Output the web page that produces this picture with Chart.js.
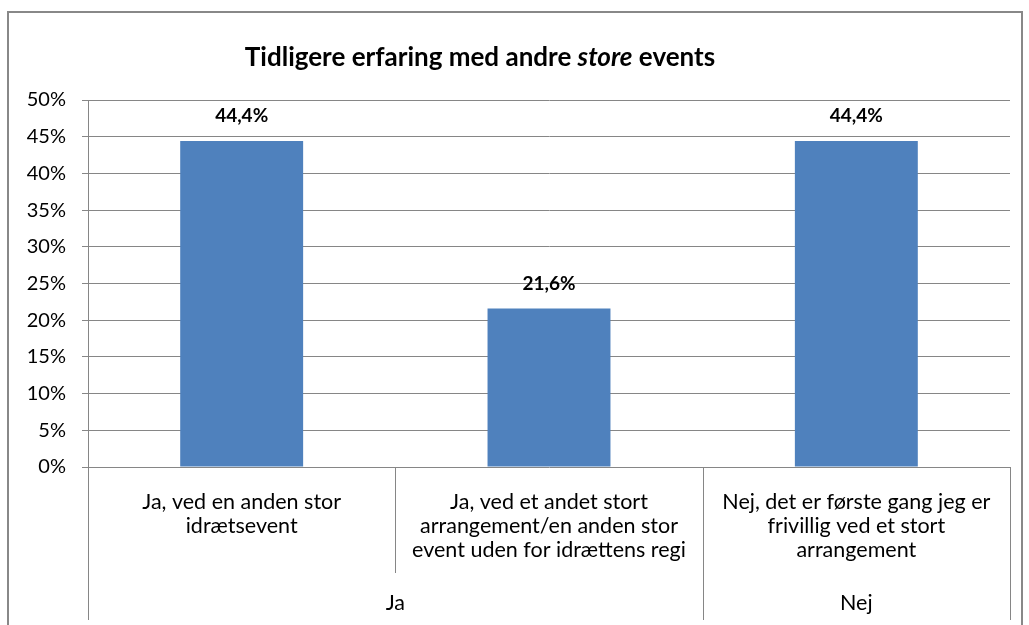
<!DOCTYPE html>
<html>
<head>
<meta charset="utf-8">
<script src="https://cdn.jsdelivr.net/npm/chart.js@4.4.1/dist/chart.umd.min.js"></script>
<style>
  html, body { margin: 0; padding: 0; background: #fff; }
  #wrap { width: 1029px; height: 625px; position: relative; }
</style>
</head>
<body>
<div id="wrap"><canvas id="chart"></canvas></div>
<script>
// data
const categories = [
    ['Ja, ved en anden stor', 'idrætsevent'],
    ['Ja, ved et andet stort', 'arrangement/en anden stor', 'event uden for idrættens regi'],
    ['Nej, det er første gang jeg er', 'frivillig ved et stort', 'arrangement']
];
const groupLabels = ['Ja', 'Nej'];
const groupSizes = [2, 1];
const values = [44.4, 21.6, 44.4];
const yMax = 50;
const yStep = 5;

const FONT = 'Lato, "Open Sans", sans-serif';
const lineColor = '#868686';

// tegner titel, ramme, datalabels og den todelte kategoriakse
const excelLook = {
    id: 'excelLook',
    afterDraw(chart) {
        const ctx = chart.ctx;
        const area = chart.chartArea;
        const x = chart.scales.x;
        ctx.save();

        // ramme
        ctx.strokeStyle = '#888';
        ctx.lineWidth = 2;
        ctx.strokeRect(8, 12, 1014, 640);

        // titel med kursiv "store"
        const parts = [
            { t: 'Tidligere erfaring med andre ', f: 'bold 26px ' + FONT },
            { t: 'store', f: 'italic bold 26px ' + FONT },
            { t: ' events', f: 'bold 26px ' + FONT }
        ];
        let total = 0;
        parts.forEach(p => { ctx.font = p.f; p.w = ctx.measureText(p.t).width; total += p.w; });
        let tx = 480 - total / 2;
        ctx.fillStyle = '#000';
        ctx.textBaseline = 'middle';
        ctx.textAlign = 'left';
        parts.forEach(p => { ctx.font = p.f; ctx.fillText(p.t, tx, 58); tx += p.w; });

        // datalabels
        const meta = chart.getDatasetMeta(0);
        ctx.font = 'bold 19px ' + FONT;
        ctx.textAlign = 'center';
        meta.data.forEach((bar, i) => {
            const txt = values[i].toFixed(1).replace('.', ',') + '%';
            ctx.fillText(txt, bar.x, bar.y - 25);
        });

        // kategoriakse
        const half = (x.getPixelForValue(1) - x.getPixelForValue(0)) / 2;
        ctx.strokeStyle = lineColor;
        ctx.lineWidth = 1;
        const bottom = area.bottom;
        const level1Bottom = bottom + 106;
        const level2Bottom = bottom + 153;
        // ydre og gruppegrænser
        let idx = 0;
        const groupEdges = [x.getPixelForValue(0) - half];
        groupSizes.forEach(n => { idx += n; groupEdges.push(x.getPixelForValue(idx - 1) + half); });
        groupEdges.forEach(px => {
            const xx = Math.round(px) + 0.5;
            ctx.beginPath(); ctx.moveTo(xx, bottom); ctx.lineTo(xx, level2Bottom); ctx.stroke();
        });
        // indre grænser
        for (let i = 0; i < categories.length - 1; i++) {
            const edge = x.getPixelForValue(i) + half;
            if (groupEdges.some(g => Math.abs(g - edge) < 1)) continue;
            const xx = Math.round(edge) + 0.5;
            ctx.beginPath(); ctx.moveTo(xx, bottom); ctx.lineTo(xx, level1Bottom); ctx.stroke();
        }
        // kategorilabels
        ctx.font = '21.5px ' + FONT;
        ctx.fillStyle = '#000';
        categories.forEach((lines, i) => {
            const cx = x.getPixelForValue(i);
            lines.forEach((ln, j) => ctx.fillText(ln, cx, bottom + 35 + j * 24));
        });
        // gruppelabels
        for (let g = 0; g < groupLabels.length; g++) {
            const cx = (groupEdges[g] + groupEdges[g + 1]) / 2;
            ctx.fillText(groupLabels[g], cx, bottom + 136);
        }
        ctx.restore();
    }
};

new Chart(document.getElementById('chart').getContext('2d'), {
    type: 'bar',
    data: {
        labels: categories,
        datasets: [{
            data: values,
            backgroundColor: '#4F81BD',
            borderWidth: 0,
            barPercentage: 0.4,
            categoryPercentage: 1
        }]
    },
    options: {
        responsive: true,
        maintainAspectRatio: false,
        animation: false,
        layout: { padding: { left: 0, top: 100, right: 19, bottom: 158 } },
        plugins: { legend: { display: false }, tooltip: { enabled: false } },
        scales: {
            x: { display: false, offset: true },
            y: {
                min: 0,
                max: yMax,
                afterFit(scale) { scale.width = 88; },
                border: { color: lineColor, width: 1 },
                grid: { color: lineColor, tickLength: 6, drawTicks: true },
                ticks: {
                    stepSize: yStep,
                    padding: 16,
                    color: '#000',
                    font: { family: FONT, size: 20 },
                    callback: v => v + '%'
                }
            }
        }
    },
    plugins: [excelLook]
});
</script>
</body>
</html>
